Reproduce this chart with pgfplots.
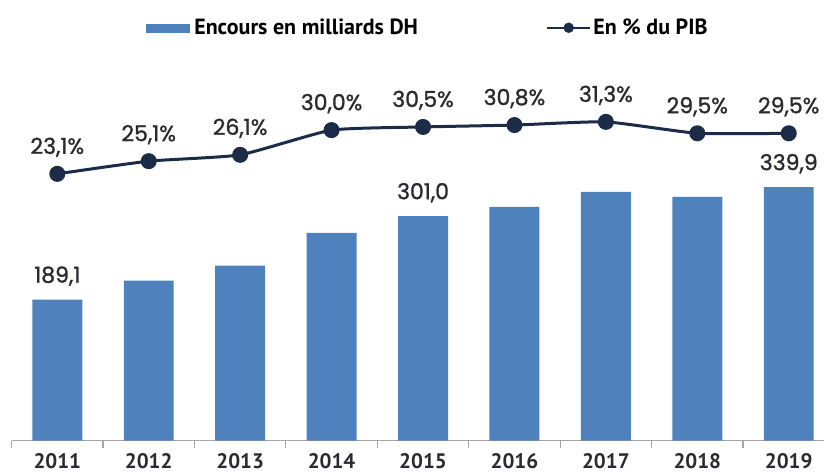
\documentclass[border=0pt]{standalone}
\usepackage{pgfplots}
\pgfplotsset{compat=1.18}
\usepackage{fontspec}
\setmainfont{Poppins}
\newfontfamily\pop{Poppins}[FakeBold=1.2]
\newfontfamily\cond{PT Sans}
\definecolor{barblue}{HTML}{4F81BD}
\definecolor{navy}{HTML}{1C2B47}
\definecolor{lbl}{HTML}{2A2A30}

\begin{document}
\begin{tikzpicture}
\begin{axis}[name=ax, scale only axis, width=813.4pt, height=441pt,
  xmin=-0.5, xmax=8.39, ymin=0, ymax=591,
  ybar, bar width=50pt,
  axis x line*=bottom, axis y line=none,
  x axis line style={draw=gray!70, line width=1.2pt},
  xtick={0,...,8}, xticklabels={2011,2012,2013,2014,2015,2016,2017,2018,2019},
  major tick length=0pt,
  minor xtick={-0.5,0.5,...,7.5}, minor tick length=7pt, tick align=outside,
  minor tick style={draw=gray!70, line width=1.2pt},
  xticklabel style={font=\cond\bfseries\fontsize{21}{21}\selectfont, text=lbl, anchor=north, yshift=-9pt},
  legend style={at={(0.512,0.937)}, anchor=center, draw=none, fill=none,
    font=\cond\bfseries\fontsize{22}{22}\selectfont,
    /tikz/every even column/.append style={column sep=126pt}},
  legend columns=2, legend cell align=left,
]
\addlegendimage{legend image code/.code={\fill[barblue] (0pt,-4pt) rectangle (43pt,4pt); \path (46pt,0pt);}}
\addlegendentry{Encours en milliards DH}
\addlegendimage{legend image code/.code={\draw[navy, line width=2.5pt] (0pt,0pt) -- (43pt,0pt); \fill[navy] (21.5pt,0pt) circle (5pt);}}
\addlegendentry{En \% du PIB}
\addplot[fill=barblue, draw=none] coordinates {
  (0,189.1) (1,214.5) (2,234.6) (3,278.8) (4,301.0) (5,313.7) (6,333.8) (7,327.0) (8,339.9)};
\node[font=\pop\fontsize{22}{22}\selectfont, text=lbl, anchor=base, inner sep=0pt, yshift=17pt] at (axis cs:0,189.1) {189,1};
\node[font=\pop\fontsize{22}{22}\selectfont, text=lbl, anchor=base, inner sep=0pt, yshift=17pt] at (axis cs:4,301.0) {301,0};
\node[font=\pop\fontsize{22}{22}\selectfont, text=lbl, anchor=base, inner sep=0pt, yshift=17pt] at (axis cs:8,339.9) {339,9};
\end{axis}
\begin{axis}[scale only axis, width=813.4pt, height=441pt,
  xmin=-0.5, xmax=8.39, ymin=-19.01, ymax=50.54,
  hide x axis, hide y axis, clip=false]
\addplot[navy, line width=3pt, smooth, tension=0.3, mark=*, mark size=6.5pt,
  mark options={solid, fill=navy},
  point meta=explicit symbolic, nodes near coords,
  nodes near coords style={font=\pop\fontsize{22}{22}\selectfont, text=lbl, anchor=base, inner sep=0pt, yshift=20pt}]
  coordinates {
  (0,23.1) [23,1\%] (1,25.1) [25,1\%] (2,26.1) [26,1\%] (3,30.0) [30,0\%] (4,30.5) [30,5\%]
  (5,30.8) [30,8\%] (6,31.3) [31,3\%] (7,29.5) [29,5\%] (8,29.5) [29,5\%]};
\end{axis}
\path[use as bounding box] ([xshift=-11.6pt,yshift=-33pt]ax.south west) rectangle (ax.north east);
\end{tikzpicture}
\end{document}
